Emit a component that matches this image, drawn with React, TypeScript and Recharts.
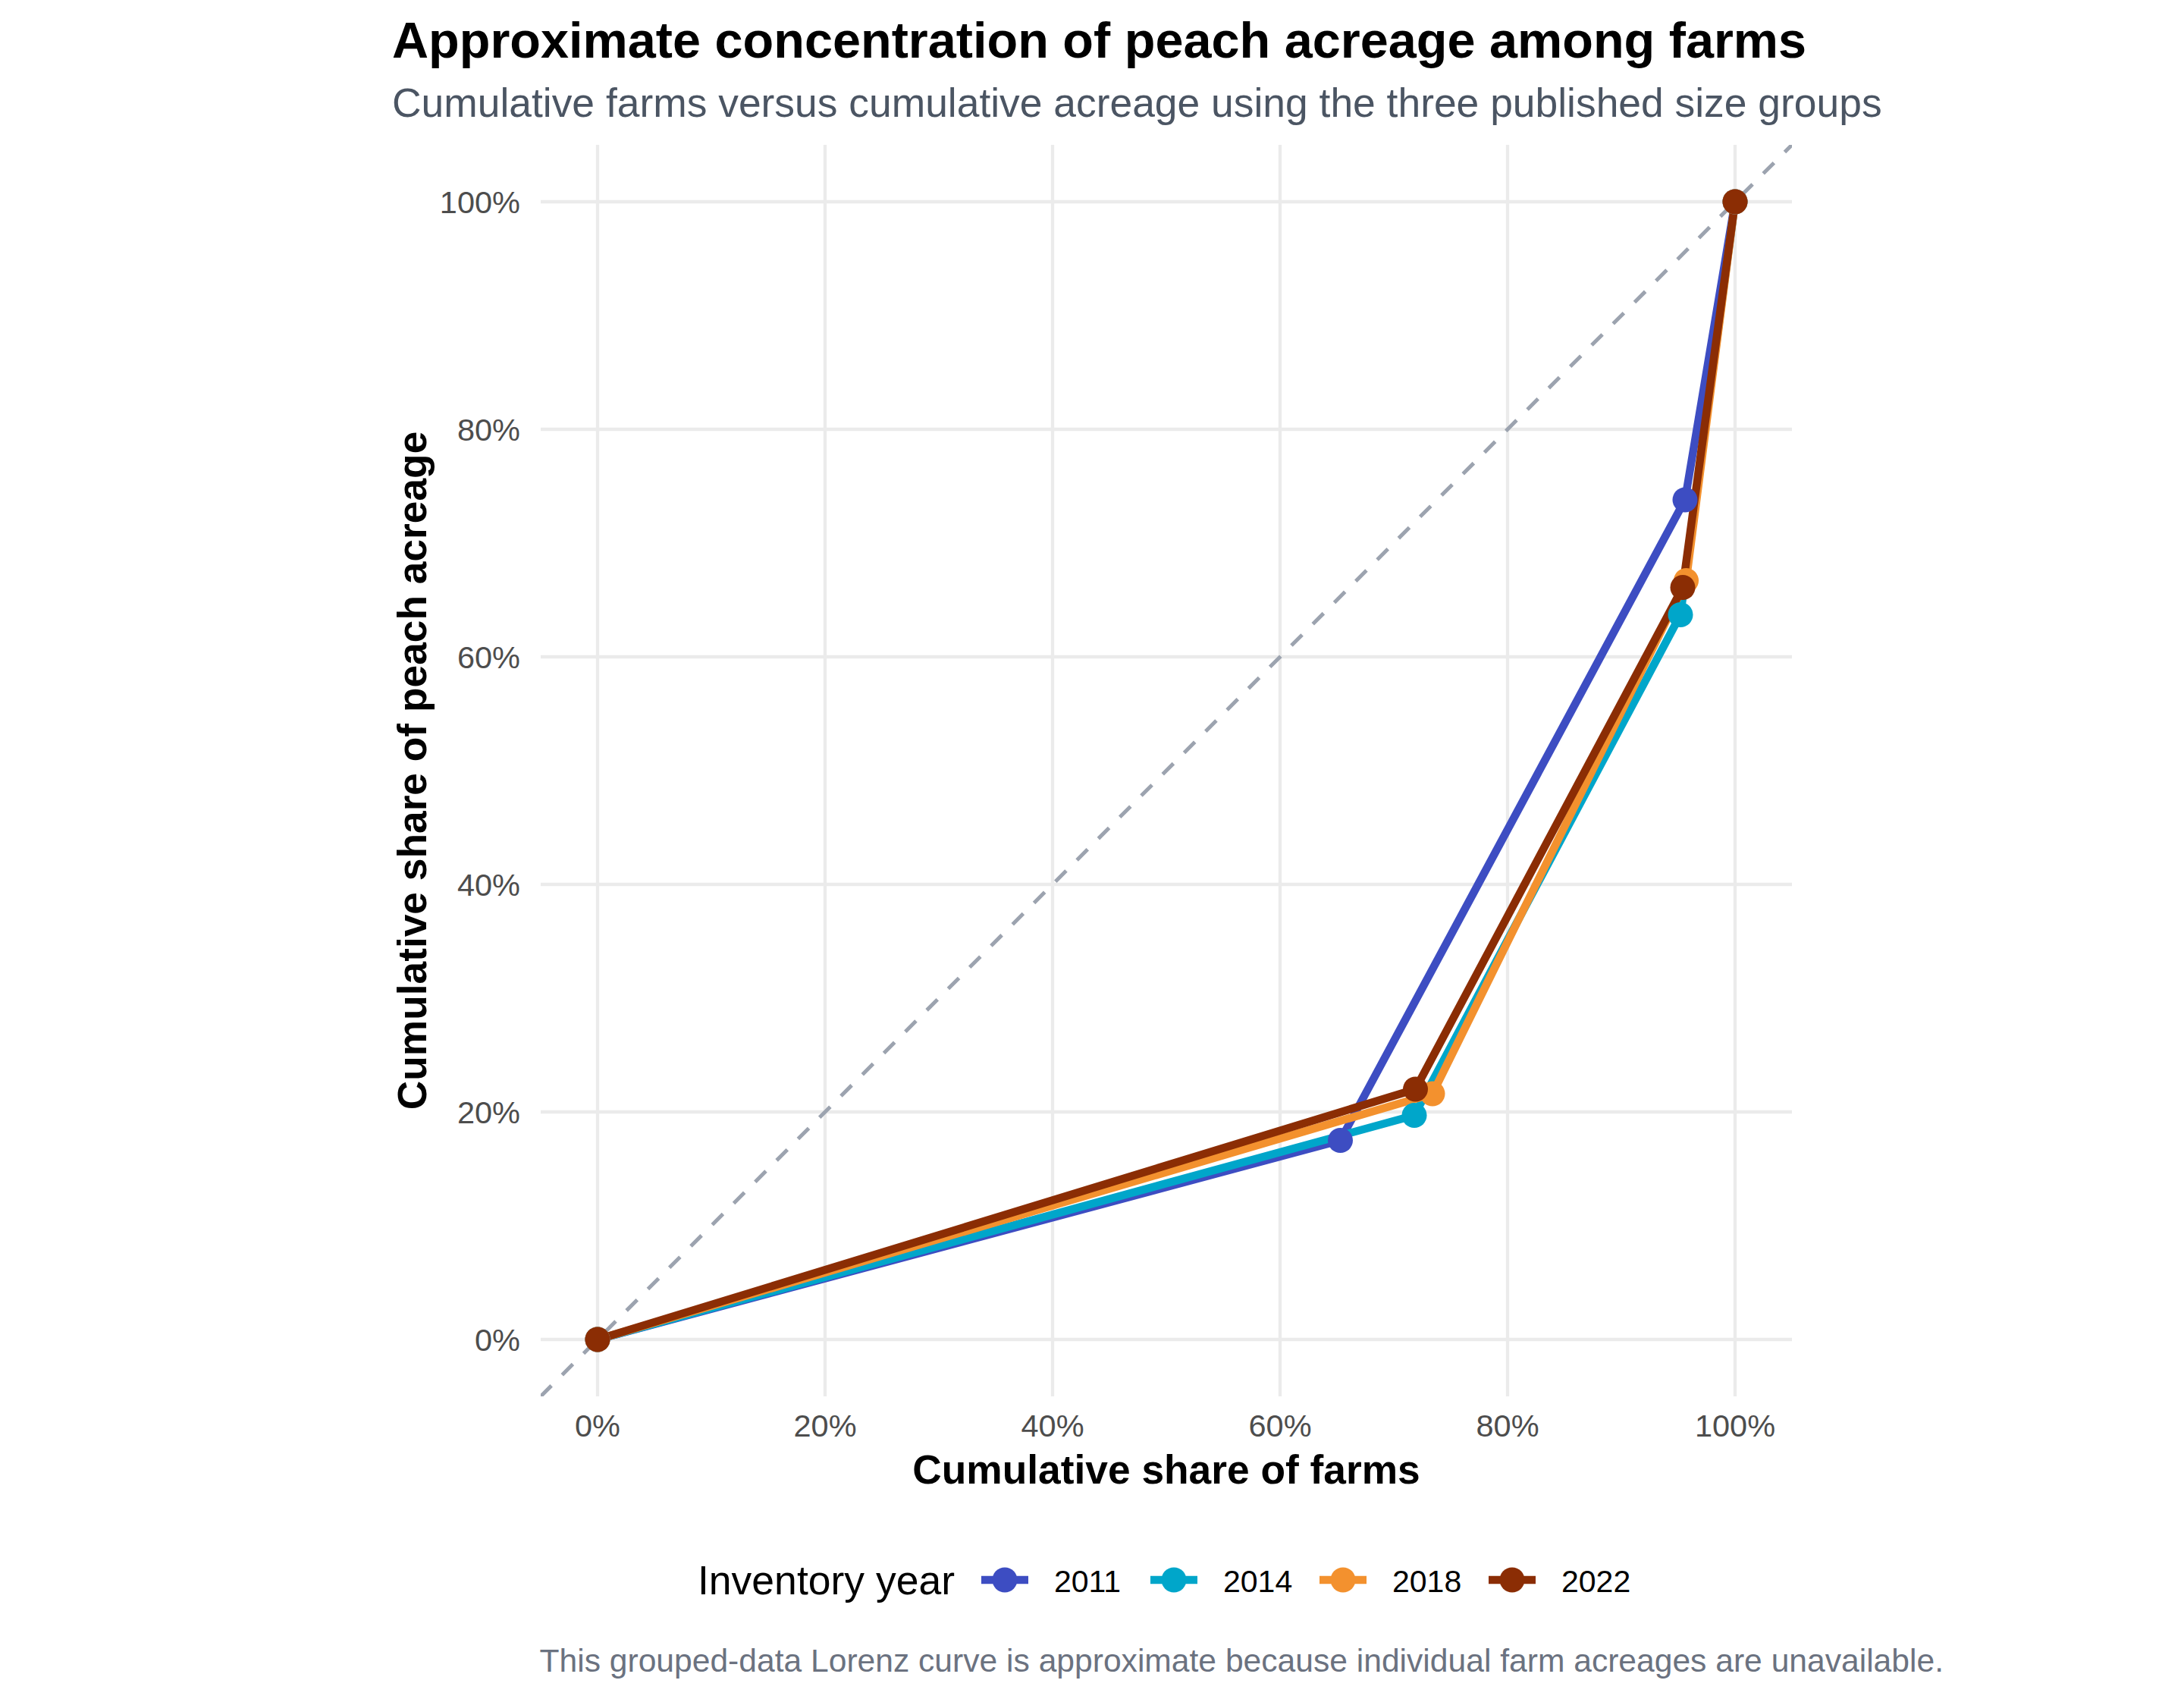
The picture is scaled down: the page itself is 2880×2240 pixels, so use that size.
import { CartesianGrid, Line, LineChart, XAxis, YAxis } from 'recharts';

const years = ['2011', '2014', '2018', '2022'];
const colors = ['#3d4dc2', '#00a6ca', '#f3912e', '#8b2d04'];

// cumulative share of farms (%) by year, smallest size group first
const farmShare2011 = [0, 65.3, 95.6, 100];
const farmShare2014 = [0, 71.8, 95.2, 100];
const farmShare2018 = [0, 73.4, 95.7, 100];
const farmShare2022 = [0, 71.9, 95.4, 100];

// cumulative share of peach acreage (%)
const acreShare2011 = [0, 17.5, 73.8, 100];
const acreShare2014 = [0, 19.7, 63.7, 100];
const acreShare2018 = [0, 21.6, 66.7, 100];
const acreShare2022 = [0, 22.0, 66.1, 100];

const ticks = [0, 20, 40, 60, 80, 100];
const domain: [number, number] = [-5, 105];

const farmShares = [farmShare2011, farmShare2014, farmShare2018, farmShare2022];
const acreShares = [acreShare2011, acreShare2014, acreShare2018, acreShare2022];

const series = years.map((year, i) => ({
  year,
  color: colors[i],
  data: farmShares[i].map((x, j) => ({ x, y: acreShares[i][j] })),
}));

// line of equality across the whole panel
const equality = domain.map((v) => ({ x: v, y: v }));

const font = '"Liberation Sans", Arial, Helvetica, sans-serif';
const W = 2880;
const H = 2240;

export default function App() {
  const tick = { fill: '#4d4d4d', fontSize: 41.5, fontFamily: font };
  return (
    <div style={{ position: 'absolute', left: 0, top: 0, width: W, height: H, background: '#fff' }}>
      <LineChart
        width={W}
        height={H}
        margin={{ top: 191, right: 517, bottom: 299, left: 513 }}
      >
        <CartesianGrid stroke="#ebebeb" strokeWidth={4.3} syncWithTicks />
        <XAxis
          type="number"
          dataKey="x"
          domain={domain}
          ticks={ticks}
          allowDataOverflow
          tickFormatter={(v) => `${v}%`}
          axisLine={false}
          tickLine={false}
          tickSize={0}
          tickMargin={24}
          height={100}
          tick={tick}
        />
        <YAxis
          type="number"
          dataKey="y"
          domain={domain}
          ticks={ticks}
          allowDataOverflow
          tickFormatter={(v) => `${v}%`}
          axisLine={false}
          tickLine={false}
          tickSize={0}
          tickMargin={27}
          width={200}
          tick={tick}
        />
        <Line
          data={equality}
          dataKey="y"
          stroke="#9ca3af"
          strokeWidth={5}
          strokeDasharray="20 20"
          dot={false}
          activeDot={false}
          isAnimationActive={false}
        />
        {series.map((s) => (
          <Line
            key={`line-${s.year}`}
            data={s.data}
            dataKey="y"
            name={s.year}
            type="linear"
            stroke={s.color}
            strokeWidth={10.5}
            dot={false}
            activeDot={false}
            isAnimationActive={false}
          />
        ))}
        {series.map((s) => (
          <Line
            key={`pts-${s.year}`}
            data={s.data}
            dataKey="y"
            stroke="none"
            dot={{ r: 16.5, fill: s.color, stroke: 'none' }}
            activeDot={false}
            legendType="none"
            isAnimationActive={false}
          />
        ))}
      </LineChart>

      <svg
        width={W}
        height={H}
        style={{ position: 'absolute', left: 0, top: 0, pointerEvents: 'none' }}
        fontFamily={font}
      >
        <text x={517} y={76} fontSize={66.6} fontWeight="bold" fill="#000">
          Approximate concentration of peach acreage among farms
        </text>
        <text x={517} y={154} fontSize={53.4} fill="#4b5563">
          Cumulative farms versus cumulative acreage using the three published size groups
        </text>
        <text x={1538} y={1956} fontSize={53.3} fontWeight="bold" fill="#000" textAnchor="middle">
          Cumulative share of farms
        </text>
        <text
          x={562}
          y={1016}
          fontSize={53.3}
          fontWeight="bold"
          fill="#000"
          textAnchor="middle"
          transform="rotate(-90 562 1016)"
        >
          Cumulative share of peach acreage
        </text>

        <text x={920} y={2102} fontSize={53.5} fill="#000">
          Inventory year
        </text>
        {series.map((s, i) => {
          const cx = 1325 + i * 223;
          return (
            <g key={`key-${s.year}`}>
              <line x1={cx - 31} x2={cx + 31} y1={2083} y2={2083} stroke={s.color} strokeWidth={10.5} />
              <circle cx={cx} cy={2083} r={16.5} fill={s.color} />
              <text x={cx + 65} y={2099} fontSize={41} fill="#000">
                {s.year}
              </text>
            </g>
          );
        })}

        <text x={2563} y={2204} fontSize={42.6} fill="#6b7280" textAnchor="end">
          This grouped-data Lorenz curve is approximate because individual farm acreages are unavailable.
        </text>
      </svg>
    </div>
  );
}
